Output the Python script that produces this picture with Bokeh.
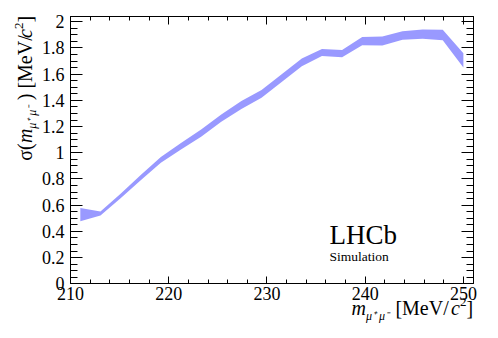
import numpy as np
from bokeh.plotting import figure
from bokeh.models import (Range1d, LinearAxis, FixedTicker, PrintfTickFormatter,
                          Label, ColumnDataSource)
from bokeh.embed import file_html
from bokeh.resources import INLINE

# ---- data ----
mass = [211.0, 213.05, 215.1, 217.15, 219.2, 221.25, 223.3, 225.35, 227.4, 229.45,
        231.5, 233.55, 235.6, 237.65, 239.7, 241.75, 243.8, 245.85, 247.9, 250.0]
sigma = [0.528, 0.537, 0.67, 0.81, 0.945, 1.05, 1.15, 1.265, 1.365, 1.45,
         1.57, 1.69, 1.765, 1.757, 1.852, 1.853, 1.895, 1.905, 1.898, 1.705]
sigma_err = [0.05, 0.015, 0.017, 0.02, 0.022, 0.025, 0.027, 0.028, 0.03, 0.03,
             0.03, 0.03, 0.027, 0.028, 0.032, 0.035, 0.033, 0.035, 0.04, 0.055]

x_ticks = [210, 220, 230, 240, 250]
y_ticks = [0, 0.2, 0.4, 0.6, 0.8, 1.0, 1.2, 1.4, 1.6, 1.8, 2.0]
X_LO, X_HI = 210, 251      # drawn box, x
Y_LO, Y_HI = 0, 2.04       # drawn box, y

FONT = "Liberation Serif"
BAND = "#9999ff"

# ---- layout: canvas 490x330, box from px (70,16) to (472.7,283.3) ----
W, H = 490, 330
BOX_L, BOX_R, BOX_T, BOX_B = 70.0, 472.7, 16.0, 283.3
sx = (BOX_R - BOX_L) / (X_HI - X_LO)
sy = (BOX_B - BOX_T) / (Y_HI - Y_LO)
xr = Range1d(X_LO - BOX_L / sx, X_HI + (W - BOX_R) / sx)
yr = Range1d(Y_LO - (H - BOX_B) / sy, Y_HI + BOX_T / sy)

lo = [s - e for s, e in zip(sigma, sigma_err)]
hi = [s + e for s, e in zip(sigma, sigma_err)]
src = ColumnDataSource(dict(x=mass, lo=lo, hi=hi))

p = figure(width=W, height=H, x_range=xr, y_range=yr,
           output_backend="svg", toolbar_location=None,
           x_axis_type=None, y_axis_type=None, min_border=0)
p.min_border_left = p.min_border_right = p.min_border_top = p.min_border_bottom = 0
p.outline_line_color = None
p.background_fill_color = "white"
p.border_fill_color = "white"
p.grid.visible = False

p.varea(x="x", y1="lo", y2="hi", source=src, fill_color=BAND, fill_alpha=1.0)

x_minor = list(np.arange(210, 252, 2))
y_minor = list(np.round(np.arange(0, 2.05, 0.05), 3))

def style(ax, maj, mn):
    ax.axis_line_color = "black"
    ax.axis_line_width = 1
    ax.major_tick_line_color = "black"
    ax.minor_tick_line_color = "black"
    ax.major_tick_in = maj
    ax.major_tick_out = 0
    ax.minor_tick_in = mn
    ax.minor_tick_out = 0
    return ax

# bottom axis with labels
bx = style(LinearAxis(ticker=FixedTicker(ticks=x_ticks, minor_ticks=x_minor),
                      fixed_location=Y_LO, bounds=(X_LO, X_HI)), 7, 4)
bx.major_label_text_font = FONT
bx.major_label_text_font_size = "18px"
bx.major_label_text_color = "black"
bx.major_label_standoff = 3
p.add_layout(bx, "below")

# left axis with labels
ly = style(LinearAxis(ticker=FixedTicker(ticks=y_ticks, minor_ticks=y_minor),
                      fixed_location=X_LO, bounds=(Y_LO, Y_HI),
                      formatter=PrintfTickFormatter(format="%g")), 12, 7)
ly.major_label_text_font = FONT
ly.major_label_text_font_size = "18px"
ly.major_label_text_color = "black"
ly.major_label_standoff = 6
p.add_layout(ly, "left")

# top and right axes: ticks only (no labels)
for tks, ln, loc, bnd, side in [(x_ticks, 8, Y_HI, (X_LO, X_HI), "above"),
                                (x_minor, 4, Y_HI, (X_LO, X_HI), "above"),
                                (y_ticks, 12, X_HI, (Y_LO, Y_HI), "right"),
                                (y_minor, 7, X_HI, (Y_LO, Y_HI), "right")]:
    ax = style(LinearAxis(ticker=FixedTicker(ticks=[], minor_ticks=tks),
                          fixed_location=loc, bounds=bnd), 0, ln)
    p.add_layout(ax, side)

MID = 0.3375  # baseline -> middle of text box, in em

def lab(text, dx, dy, size, italic=False, angle=0.0, align="left"):
    # dx, dy: baseline anchor, in px from the box's bottom-left corner
    if angle:
        dx = dx - MID * size
    else:
        dy = dy + MID * size
    p.add_layout(Label(x=X_LO, y=Y_LO, x_units="data", y_units="data",
                       x_offset=dx, y_offset=dy, text=text, angle=angle,
                       text_font=FONT, text_font_size=f"{size}px",
                       text_font_style="italic" if italic else "normal",
                       text_align=align, text_baseline="middle",
                       text_color="black"))

# ---- y-axis title (rotated) ----
A = np.pi / 2
bx0 = -39
lab("σ(", bx0, 123, 20, False, A)
lab("m", bx0, 140.7, 20, True, A)
lab("μ⁺ μ⁻", bx0 + 5, 155.1, 12, True, A)
lab("]", bx0, 268, 20, False, A, "right")
lab("2", bx0 - 8, 261.3, 13, False, A, "right")
lab("c", bx0, 254.8, 20, True, A, "right")
lab(") [MeV/", bx0, 248.5, 20, False, A, "right")

# ---- x-axis title ----
by0 = -30.7
lab("m", 281, by0, 20, True)
lab("μ⁺ μ⁻", 295.4, by0 - 6, 12, True)
lab("]", 402.7, by0, 20, False, 0.0, "right")
lab("2", 396.0, by0 + 8, 13, False, 0.0, "right")
lab("c", 389.5, by0, 20, True, 0.0, "right")
lab(" [MeV/", 383.2, by0, 20, False, 0.0, "right")

# ---- LHCb label ----
lab("LHCb", 259, 39.3, 27)
lab("Simulation", 259, 22.5, 13.5)

open("out.html", "w").write(file_html(p, INLINE))
